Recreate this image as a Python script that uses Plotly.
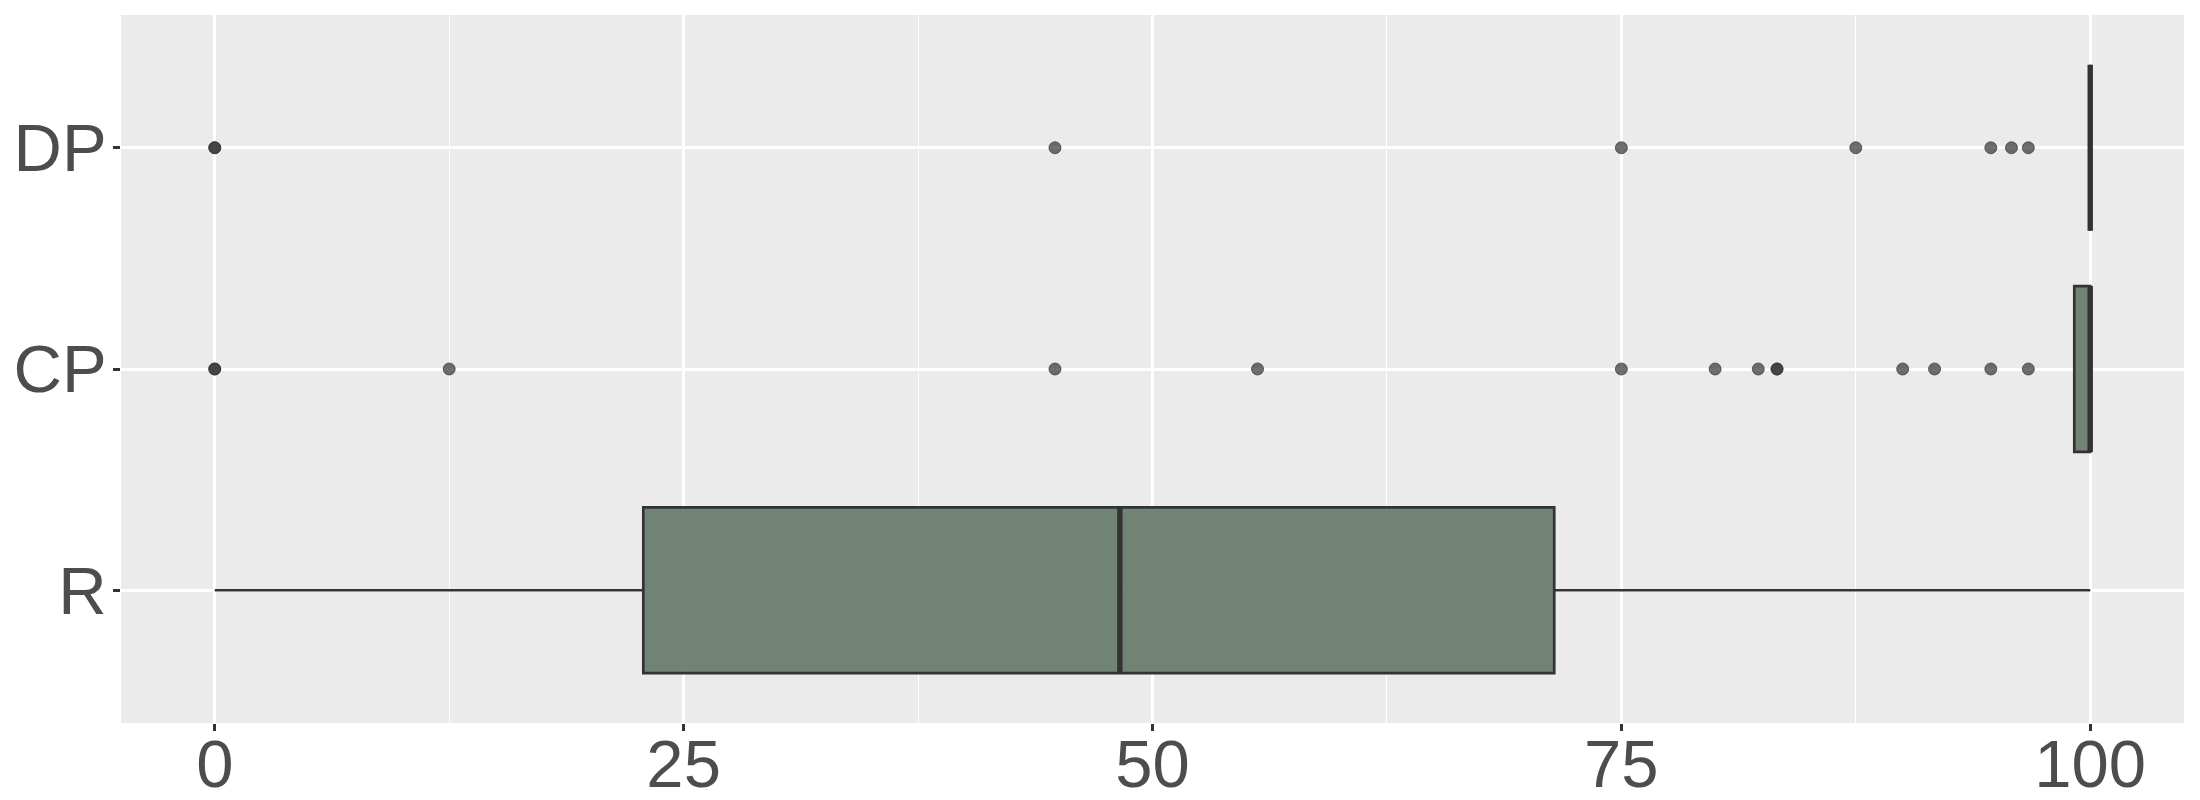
import plotly.graph_objects as go

# Categories (bottom to top)
categories = ["R", "CP", "DP"]
positions = [0, 1, 2]

# Box statistics
q1 = [22.85, 99.15, 100.0]
median = [48.26, 100.0, 100.0]
q3 = [71.42, 100.0, 100.0]
lower_fence = [0.0, 99.15, 100.0]
upper_fence = [100.0, 100.0, 100.0]

# Outliers per category
outliers_R = []
outliers_CP = [0, 0, 12.5, 44.8, 55.6, 75.0, 80.0, 82.3, 83.3, 83.3, 90.0, 91.7, 94.7, 96.7]
outliers_DP = [0, 0, 44.8, 75.0, 87.5, 94.7, 95.8, 96.7]

x_ticks = [0, 25, 50, 75, 100]

BOX_W = 0.75
FILL = "rgba(103,123,108,0.93)"
DARK = "#333333"

fig = go.Figure()

fig.add_trace(go.Box(
    orientation="h",
    y=positions,
    q1=q1, median=median, q3=q3,
    lowerfence=lower_fence, upperfence=upper_fence,
    width=BOX_W,
    fillcolor=FILL,
    line=dict(color=DARK, width=2.7),
    whiskerwidth=0,
    boxpoints=False,
    hoverinfo="skip",
    showlegend=False,
))

# Thicker median lines (ggplot fatten)
for p, m in zip(positions, median):
    fig.add_trace(go.Scatter(
        x=[m, m], y=[p - BOX_W / 2, p + BOX_W / 2],
        mode="lines", line=dict(color=DARK, width=5.4),
        hoverinfo="skip", showlegend=False,
    ))

for p, pts in zip(positions, [outliers_R, outliers_CP, outliers_DP]):
    if not pts:
        continue
    fig.add_trace(go.Scatter(
        x=pts, y=[p] * len(pts), mode="markers",
        marker=dict(size=12, color="rgba(51,51,51,0.7)",
                    line=dict(width=1, color="rgba(51,51,51,0.7)")),
        hoverinfo="skip", showlegend=False,
    ))

# The page body adds an 8px margin, so the figure is 8px smaller
fig.update_layout(
    width=2192, height=792,
    margin=dict(l=113, r=16, t=7, b=77, autoexpand=False),
    paper_bgcolor="white",
    plot_bgcolor="#EBEBEB",
    font=dict(family="Liberation Sans, Arial, sans-serif", size=67, color="#4D4D4D"),
    showlegend=False,
)
fig.update_xaxes(
    range=[-5, 105],
    tickvals=x_ticks, ticktext=[str(t) for t in x_ticks],
    showgrid=True, gridcolor="white", gridwidth=2.7,
    minor=dict(dtick=12.5, tick0=0, showgrid=True, gridcolor="white", gridwidth=1.4, ticks=""),
    ticks="outside", ticklen=7, tickwidth=2.7, tickcolor=DARK,
    ticklabelstandoff=-24,
    zeroline=False, showline=False, automargin=False,
    tickfont=dict(size=67, color="#4D4D4D"),
)
fig.update_yaxes(
    range=[-0.6, 2.6],
    tickvals=positions, ticktext=categories,
    showgrid=True, gridcolor="white", gridwidth=2.7,
    ticks="outside", ticklen=7, tickwidth=2.7, tickcolor=DARK,
    ticklabelstandoff=-7,
    zeroline=False, showline=False, automargin=False,
    tickfont=dict(size=67, color="#4D4D4D"),
)

fig.write_html("out.html")
